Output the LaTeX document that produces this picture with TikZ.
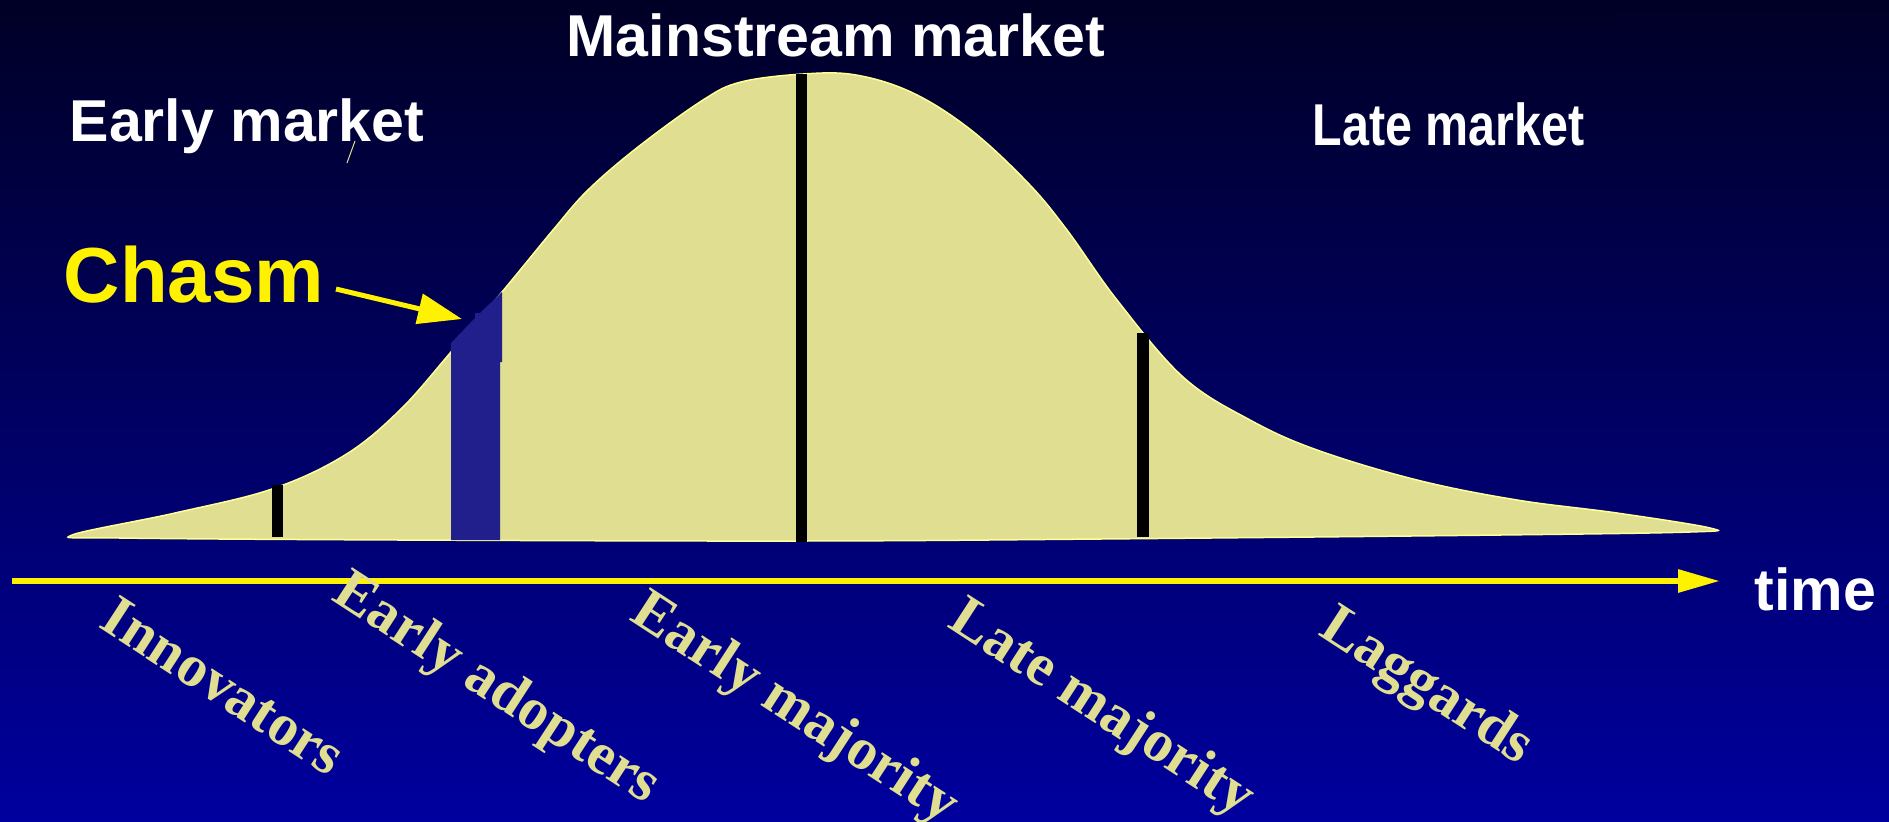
\documentclass[tikz,border=0pt]{standalone}
\usepackage{fontspec}
\setmainfont{Liberation Serif}
\setsansfont{Liberation Sans}
\usetikzlibrary{arrows.meta}

\definecolor{skytop}{RGB}{0,0,38}
\definecolor{skybottom}{RGB}{0,0,158}
\definecolor{bell}{RGB}{224,223,145}
\definecolor{bellrim}{RGB}{255,255,150}
\definecolor{gapblue}{RGB}{32,31,140}

\begin{document}
\begin{tikzpicture}[x=0.01cm, y=-0.01cm,
    market/.style={text=white, inner sep=0pt, font=\sffamily\bfseries\fontsize{16.8}{20}\selectfont},
    adopters/.style={text=bell, inner sep=0pt, rotate=-33, font=\rmfamily\bfseries\fontsize{16.8}{20}\selectfont},
    divider/.style={fill=black},
    pointer/.style={draw=yellow, line width=0.5mm, -{Triangle[length=4.4mm, width=3mm]}},
    timeline/.style={draw=yellow, line width=0.6mm, -{Triangle[length=4.2mm, width=2.2mm]}}
  ]
  \useasboundingbox (0,0) rectangle (1889,821);
  \shade[top color=skytop, bottom color=skybottom] (0,0) rectangle (1889,821);
  \fill[black!85!blue] (0,0) rectangle (1614,18);

  % adoption curve
  \filldraw[fill=bell, draw=bellrim, line width=0.15mm]
    plot[smooth cycle, tension=0.6] coordinates {
      (72,535) (175,513) (272,489) (345,455) (400,410)
      (451,352) (502,292) (553,230) (588,190) (638,147) (703,100) (741,82)
      (803,74) (856,75) (913,93) (971,130) (1028,183) (1067,230) (1117,300)
      (1183,377) (1250,420) (1317,450) (1417,480) (1517,500)
      (1617,513) (1710,528) (1690,532) (1500,535) (1100,539) (800,541)
      (400,540) (120,538)};

  % dividers between groups
  \fill[divider] (272,485) rectangle (283,537);
  \fill[divider] (796,74) rectangle (807,542);
  \fill[divider] (1137,333) rectangle (1149,537);
  \fill[gapblue] (451,343) -- (475,318) -- (475,313) -- (480,313) -- (502,292)
    -- (502,362) -- (500,362) -- (500,540) -- (451,540) -- cycle;
  \draw[bell, line width=0.1mm] (347,163) -- (355,141);

  \node[market, anchor=base] (mainstream) at (836,56) {Mainstream market};
  \node[market, anchor=base west] (early) at (69,141) {Early market};
  \node[market, anchor=base west, xscale=0.82] (late) at (1312,145) {Late market};
  \node[market, anchor=base west] (time) at (1754,610) {time};
  \node[text=yellow, inner sep=0pt, anchor=base west,
    font=\sffamily\bfseries\fontsize{22.2}{26}\selectfont] (chasm) at (63,302) {Chasm};

  \coordinate (chasmtail) at (336,289);
  \coordinate (chasmtip) at (462,319);
  \draw[pointer] (chasmtail) -- (chasmtip);

  \coordinate (tstart) at (12,581);
  \coordinate (tend) at (1720,581);
  \draw[timeline] (tstart) -- (tend);

  \node[adopters] (innov) at (224,686) {Innovators};
  \node[adopters] (eadopt) at (496,690) {Early adopters};
  \node[adopters] (emaj) at (794,710) {Early majority};
  \node[adopters] (lmaj) at (1101,710) {Late majority};
  \node[adopters] (lag) at (1426,688) {Laggards};
\end{tikzpicture}
\end{document}
